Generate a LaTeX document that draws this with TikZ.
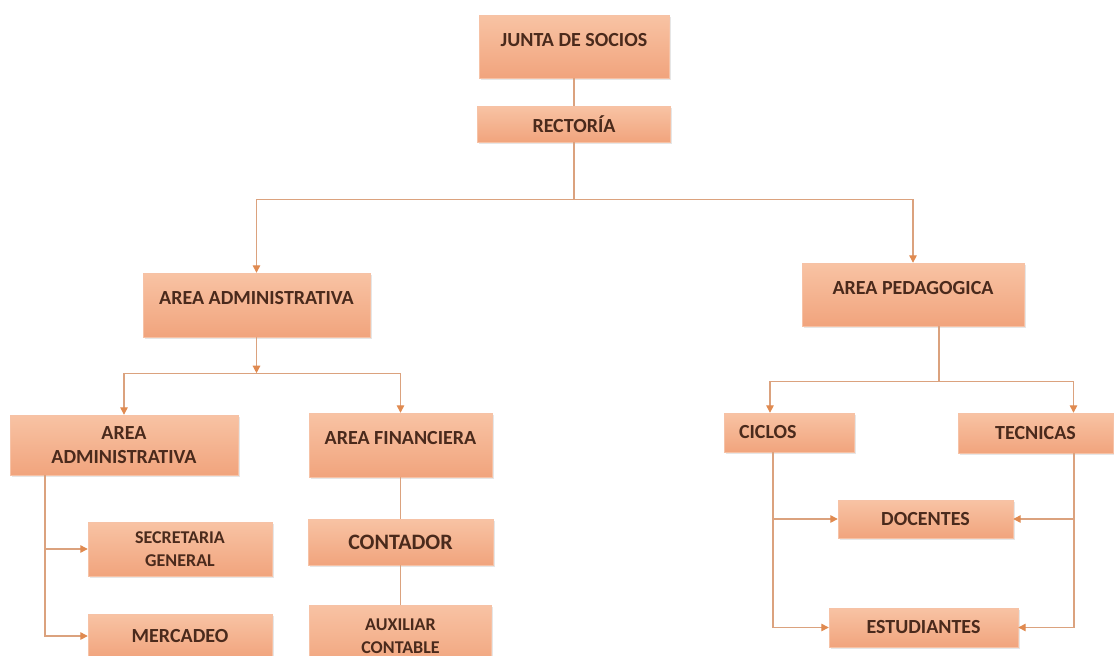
\documentclass[tikz,border=0pt]{standalone}
\usepackage{fontspec}
\setmainfont{Carlito}
\usetikzlibrary{arrows.meta,shadows}
\definecolor{boxtop}{HTML}{F8C3A4}
\definecolor{boxbot}{HTML}{F1A47D}
\definecolor{boxline}{HTML}{F6C2A6}
\definecolor{linec}{HTML}{DBA27E}
\definecolor{tipc}{HTML}{E08A50}
\definecolor{txt}{HTML}{4A2A1C}
\begin{document}
\begin{tikzpicture}[x=1pt,y=-1pt,
    box/.style={draw=boxline,top color=boxtop,bottom color=boxbot,text=txt,
      font=\fontsize{20}{24}\selectfont\bfseries,align=center,inner sep=2pt,
      drop shadow={shadow xshift=1.5pt,shadow yshift=-1.5pt,opacity=0.2}},
    tall/.style={text depth=14pt},
    small/.style={font=\fontsize{18}{23}\selectfont\bfseries},
    big/.style={font=\fontsize{22}{26}\selectfont\bfseries},
    link/.style={draw=linec,line width=1.3pt},
    arr/.style={link,-{Triangle[length=7.5pt,width=7.5pt,color=tipc]}}]
  \useasboundingbox (0,0) rectangle (1114,656);
  \node[box,tall,minimum width=190pt,minimum height=63pt] (junta) at (574,46.5) {JUNTA DE SOCIOS};
  \node[box,minimum width=193pt,minimum height=36pt] (rect) at (574,124) {RECTORÍA};
  \node[box,tall,minimum width=227pt,minimum height=64pt] (adm) at (256.5,305) {AREA ADMINISTRATIVA};
  \node[box,tall,minimum width=222pt,minimum height=63pt] (ped) at (913,294.5) {AREA PEDAGOGICA};
  \node[box,minimum width=228pt,minimum height=60pt] (adm2) at (124,445) {AREA\\ADMINISTRATIVA};
  \node[box,tall,minimum width=183pt,minimum height=64pt] (fin) at (400.5,445) {AREA FINANCIERA};
  \node[box,small,minimum width=184pt,minimum height=54pt] (sec) at (180,549) {SECRETARIA\\GENERAL};
  \node[box,minimum width=184pt,minimum height=44pt] (merc) at (180,636) {MERCADEO};
  \node[box,big,minimum width=185pt,minimum height=46pt] (cont) at (400.5,542) {CONTADOR};
  \node[box,small,minimum width=182pt,minimum height=62pt] (aux) at (400.5,636) {AUXILIAR\\CONTABLE};
  \node[box,text width=100pt,align=left,minimum width=130pt,minimum height=39pt] (cic) at (789,432.5) {CICLOS};
  \node[box,minimum width=155pt,minimum height=40pt] (tec) at (1035.5,433) {TECNICAS};
  \node[box,minimum width=175pt,minimum height=38pt] (doc) at (925.5,519) {DOCENTES};
  \node[box,minimum width=189pt,minimum height=39pt] (est) at (923.5,627.5) {ESTUDIANTES};
  % upper levels
  \draw[link] (junta) -- (rect);
  \draw[link] (rect.south) -- ++(0,57) coordinate (b1);
  \draw[arr] (b1) -| (adm.north);
  \draw[arr] (b1) -| (ped.north);
  % administrative side
  \draw[arr] (adm.south) -- ++(0,36) coordinate (b2);
  \draw[arr] (b2) -| (adm2.north);
  \draw[arr] (b2) -| (fin.north);
  \foreach \n in {sec,merc}
    \draw[arr] ([xshift=-79pt]adm2.south) |- (\n.west);
  \draw[link] (fin) -- (cont);
  \draw[link] (cont) -- (aux);
  % pedagogical side
  \draw[link] ([xshift=26pt]ped.south) -- ++(0,55) coordinate (b3);
  \draw[arr] (b3) -| ([xshift=-19pt]cic.north);
  \draw[arr] (b3) -| ([xshift=38pt]tec.north);
  \foreach \n in {doc,est} {
    \draw[arr] ([xshift=-16pt]cic.south) |- (\n.west);
    \draw[arr] ([xshift=38.5pt]tec.south) |- (\n.east);
  }
\end{tikzpicture}
\end{document}
